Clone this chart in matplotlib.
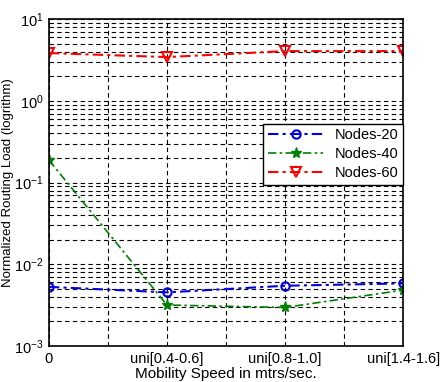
import matplotlib.pyplot as plt
import numpy as np

# data
x_pos = [0, 2, 4, 6]
tick_labels = ['0', '', 'uni[0.4-0.6]', '', 'uni[0.8-1.0]', '', 'uni[1.4-1.6]']
nodes20 = [0.0053, 0.00454, 0.00547, 0.00585]
nodes40 = [0.188, 0.00318, 0.00297, 0.00484]
nodes60 = [3.84, 3.43, 4.06, 4.06]

plt.rcParams['font.family'] = ['Liberation Sans', 'DejaVu Sans']
plt.rcParams['mathtext.fontset'] = 'custom'
plt.rcParams['mathtext.rm'] = 'Liberation Sans'

dashdot = (0, (5, 2, 1.5, 2))

fig = plt.figure(figsize=(4.41, 3.82), dpi=100)
ax = fig.add_axes([0.111, 0.094, 0.803, 0.856])

ax.plot(x_pos, nodes20, color='#0000e0', ls=dashdot, marker='o', mfc='none', mec='#0000e0',
        ms=6, mew=1.5, lw=1.5, label='Nodes-20')
ax.plot(x_pos, nodes40, color='#008000', ls=dashdot, marker='*', mfc='#008000', mec='#008000',
        ms=8, lw=1.2, label='Nodes-40')
ax.plot(x_pos, nodes60, color='#ff0000', ls=dashdot, marker='v', mfc='none', mec='#ff0000',
        ms=7, mew=1.5, lw=1.5, label='Nodes-60')

ax.set_yscale('log')
ax.set_ylim(1e-3, 10)
ax.set_xlim(0, 6)
ax.set_xticks(range(7))
ax.set_xticklabels(tick_labels, fontsize=10.5)
ax.tick_params(axis='y', labelsize=10.5)
ax.tick_params(which='both', direction='in', length=0, pad=4)

ax.grid(True, which='major', axis='both', ls=(0, (4, 3)), color='black', lw=0.8)
ax.grid(True, which='minor', axis='y', ls=(0, (4, 3)), color='black', lw=0.8)

for sp in ax.spines.values():
    sp.set_linewidth(1.2)

ax.set_xlabel('Mobility Speed in mtrs/sec.', fontsize=11, labelpad=1)
ax.set_ylabel('Normalized Routing Load (logrithm)', fontsize=9.5, labelpad=0)

leg = ax.legend(loc='upper right', bbox_to_anchor=(1.0, 0.68), fontsize=10.5,
                frameon=True, fancybox=False, edgecolor='black', framealpha=1,
                handlelength=3.8, borderpad=0.3, labelspacing=0.35, borderaxespad=0)
leg.get_frame().set_linewidth(1.0)

fig.savefig('out.png', dpi=100)
